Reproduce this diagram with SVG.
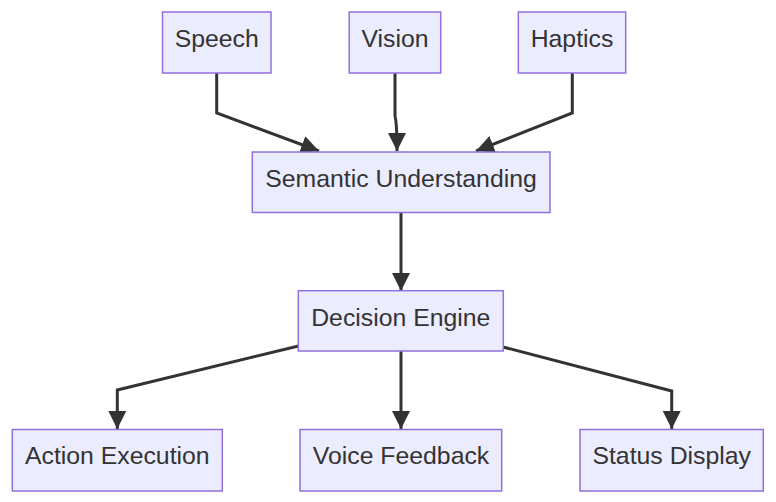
<svg xmlns="http://www.w3.org/2000/svg" width="776" height="502" viewBox="0 0 776 502">
<style>
.node rect{fill:#ECECFF;stroke:#9370DB;stroke-width:1.5px;}
.node text{font-family:"Liberation Sans",Arial,Helvetica,sans-serif;font-size:24.8px;fill:#333333;text-anchor:middle;}
.edge{fill:none;stroke:#333333;stroke-width:3px;marker-end:url(#arrow);}
</style>
<defs>
<marker id="arrow" viewBox="0 0 10 10" refX="10" refY="5" markerUnits="userSpaceOnUse" markerWidth="18" markerHeight="18" orient="auto">
<path d="M0,0 L10,5 L0,10 z" fill="#333333"/>
</marker>
</defs>
<rect width="776" height="502" fill="#ffffff"/>
<g id="connectors">
<path class="edge" d="M216.7,73 L216.7,113 L319,151"/>
<path class="edge" d="M395,73 L395,116 Q397,124 397,151"/>
<path class="edge" d="M572.3,73 L572.3,113 L476,151"/>
<path class="edge" d="M401,212 L401,291"/>
<path class="edge" d="M298.5,346 L117.3,390 L117.3,429"/>
<path class="edge" d="M401,351 L401,429"/>
<path class="edge" d="M503,347 L671.7,391 L671.7,429"/>
</g>
<g id="node-speech" class="node"><rect x="162.5" y="12" width="108.5" height="61"/><text x="216.7" y="46.7">Speech</text></g>
<g id="node-vision" class="node"><rect x="349.2" y="12" width="91.5" height="61"/><text x="395" y="46.7">Vision</text></g>
<g id="node-haptics" class="node"><rect x="518.3" y="12" width="107.4" height="61"/><text x="572" y="46.7">Haptics</text></g>
<g id="node-semantic" class="node"><rect x="252.3" y="152" width="297.7" height="60.5"/><text x="401" y="186.7">Semantic Understanding</text></g>
<g id="node-decision" class="node"><rect x="298.3" y="290.7" width="205" height="60.3"/><text x="400.8" y="325.5">Decision Engine</text></g>
<g id="node-action" class="node"><rect x="12.3" y="429.5" width="210" height="61.5"/><text x="117.3" y="464.2">Action Execution</text></g>
<g id="node-voice" class="node"><rect x="300" y="429.5" width="201.7" height="61.5"/><text x="401" y="464.2">Voice Feedback</text></g>
<g id="node-status" class="node"><rect x="580" y="429.5" width="183.3" height="61.5"/><text x="671.7" y="464.2">Status Display</text></g>
</svg>
